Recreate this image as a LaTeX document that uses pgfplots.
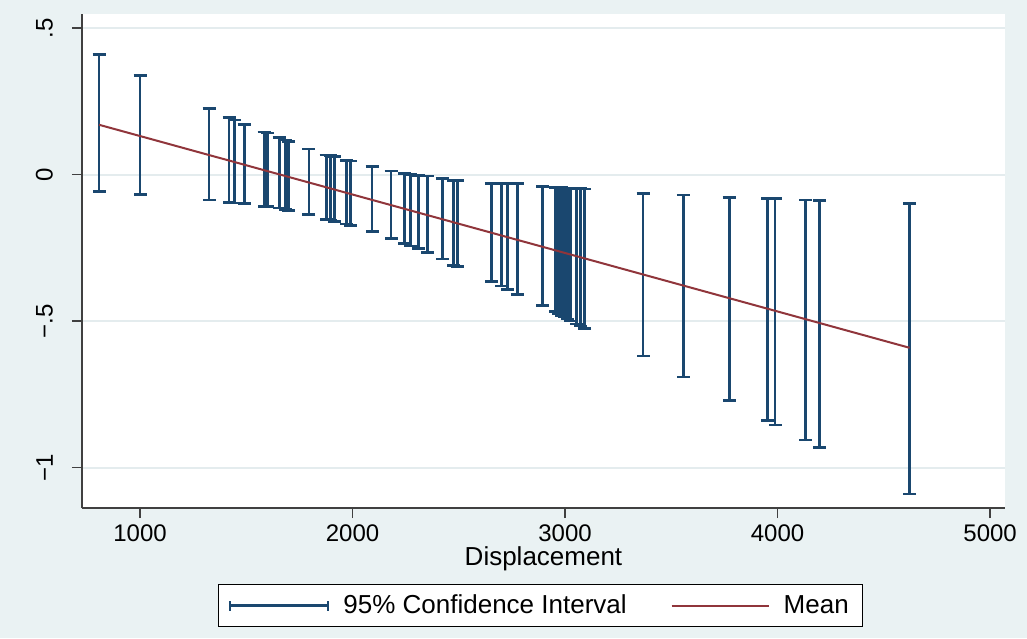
\documentclass[border=0pt]{standalone}
\usepackage{fontspec}
\setmainfont{Liberation Sans}
\usepackage{pgfplots}
\pgfplotsset{compat=1.18}
\usepackage{pgfplotstable}
\definecolor{bg}{HTML}{EAF2F3}
\definecolor{gridc}{HTML}{E4ECEE}
\definecolor{navy}{HTML}{1A476F}
\definecolor{maroon}{HTML}{90353B}

\pgfplotstableread{
x m lo hi
807 0.170 -0.059 0.409
1000 0.1315 -0.067 0.339
1325 0.0666 -0.087 0.225
1419 0.0479 -0.094 0.196
1443 0.0431 -0.097 0.186
1490 0.0337 -0.100 0.172
1584 0.0149 -0.108 0.145
1598 0.0121 -0.108 0.142
1655 0.0008 -0.114 0.126
1683 -0.0048 -0.119 0.118
1697 -0.0076 -0.123 0.114
1795 -0.0272 -0.135 0.087
1876 -0.0433 -0.152 0.067
1895 -0.0471 -0.155 0.064
1914 -0.0509 -0.159 0.061
1971 -0.0623 -0.169 0.049
1990 -0.0661 -0.174 0.046
2092 -0.0865 -0.195 0.027
2181 -0.1042 -0.219 0.012
2244 -0.1168 -0.235 0.004
2272 -0.1224 -0.244 0.001
2311 -0.1302 -0.252 -0.002
2351 -0.1382 -0.267 -0.005
2422 -0.1523 -0.288 -0.013
2476 -0.1631 -0.311 -0.019
2492 -0.1663 -0.314 -0.021
2653 -0.1984 -0.366 -0.030
2700 -0.2078 -0.380 -0.030
2728 -0.2134 -0.392 -0.031
2775 -0.2228 -0.408 -0.031
2894 -0.2465 -0.447 -0.041
2956 -0.2589 -0.466 -0.044
2970 -0.2617 -0.473 -0.045
2984 -0.2645 -0.480 -0.045
2998 -0.2673 -0.486 -0.046
3012 -0.2701 -0.493 -0.046
3026 -0.2729 -0.500 -0.047
3055 -0.2787 -0.510 -0.048
3073 -0.2823 -0.517 -0.048
3092 -0.2861 -0.524 -0.049
3367 -0.3410 -0.619 -0.064
3557 -0.3789 -0.691 -0.070
3772 -0.4218 -0.770 -0.078
3953 -0.4579 -0.840 -0.083
3988 -0.4649 -0.855 -0.083
4132 -0.4936 -0.906 -0.087
4196 -0.5064 -0.931 -0.089
4621 -0.5912 -1.090 -0.098
}\cidata

\begin{document}
\begin{tikzpicture}
\fill[bg, use as bounding box] (-41pt,-65pt) rectangle (472.5pt,254pt);
\begin{axis}[
  at={(0,0)}, anchor=south west,
  scale only axis, width=461.5pt, height=247pt,
  xmin=727, xmax=5070, ymin=-1.138, ymax=0.548,
  axis x line*=bottom, axis y line*=left,
  axis line style={black!75, line width=0.7pt, -},
  axis background/.style={fill=white},
  xtick={1000,2000,3000,4000,5000},
  xticklabels={1000,2000,3000,4000,5000},
  ytick={-1,-0.5,0,0.5},
  yticklabels={−1,−.5,0,.5},
  tick align=outside, major tick length=5pt,
  tick style={black!75, line width=0.7pt},
  ymajorgrids, grid style={gridc, line width=1pt},
  yticklabel style={rotate=90, anchor=south, font=\fontsize{12}{14}\selectfont},
  yticklabel shift=6pt,
  xticklabel style={font=\fontsize{12}{14}\selectfont},
  xlabel={Displacement},
  xlabel style={font=\fontsize{13}{15}\selectfont, yshift=4.5pt},
  legend columns=2,
  legend style={at={(0.497,-0.198)}, anchor=center, draw=black, line width=0.6pt,
    fill=white, font=\fontsize{13}{15}\selectfont,
    /tikz/every odd column/.append style={column sep=5pt},
    /tikz/every even column/.append style={column sep=20pt},
    inner xsep=5pt, inner ysep=3pt},
]
\addplot[draw=none, mark=none,
  legend image code/.code={
    \draw[navy, line width=1.4pt] (0pt,0pt) -- (49pt,0pt);
    \draw[navy, line width=1.4pt] (0pt,-2.5pt) -- (0pt,2.5pt);
    \draw[navy, line width=1.4pt] (49pt,-2.5pt) -- (49pt,2.5pt);},
  error bars/.cd, y dir=both, y explicit, error mark=|,
  error bar style={draw=navy, line width=1.4pt},
  error mark options={draw=navy, line width=1.4pt, mark size=3.25pt}]
  table[x=x, y=m, y error plus expr=\thisrow{hi}-\thisrow{m},
        y error minus expr=\thisrow{m}-\thisrow{lo}]{\cidata};
\addplot[maroon, line width=1pt, mark=none,
  legend image code/.code={
    \draw[maroon, line width=1pt] (0pt,0pt) -- (48.5pt,0pt);}]
  table[x=x, y=m]{\cidata};
\legend{95\% Confidence Interval, Mean}
\end{axis}
\end{tikzpicture}
\end{document}
